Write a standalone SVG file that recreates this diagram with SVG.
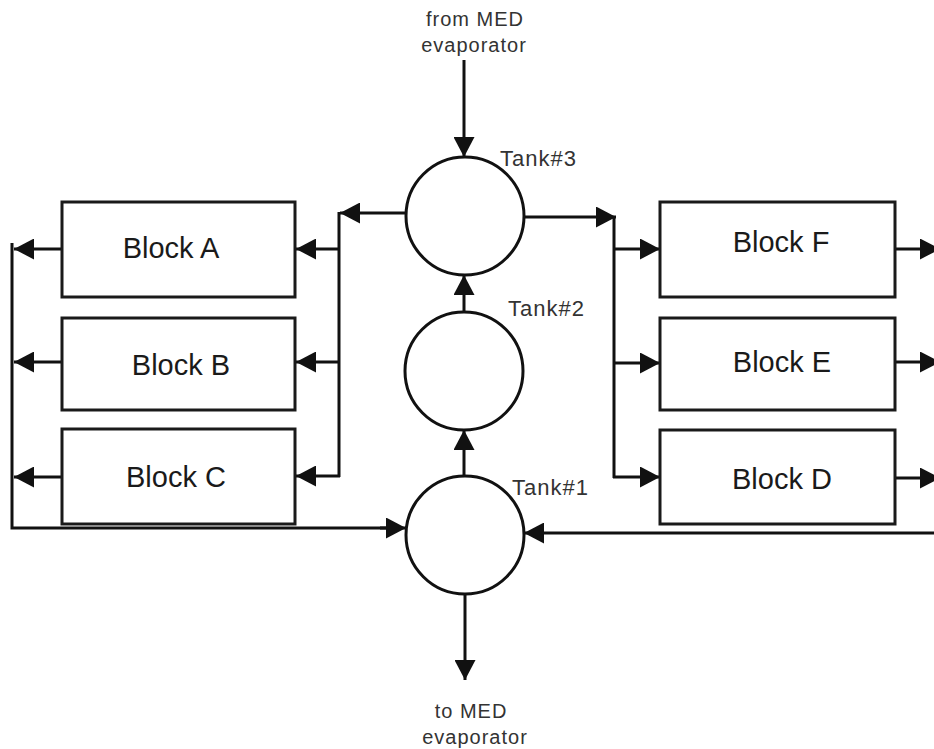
<svg xmlns="http://www.w3.org/2000/svg" width="934" height="749" viewBox="0 0 934 749">
<style>
.box{fill:#fff;stroke:#1a1a1a;stroke-width:3}
.tank{fill:#fff;stroke:#111;stroke-width:3}
.ln{fill:none;stroke:#111;stroke-width:3}
.bl{font-family:"Liberation Sans",Arial,sans-serif;font-size:29px;fill:#1a1a1a;text-anchor:middle}
.tl{font-family:"Liberation Sans",Arial,sans-serif;font-size:22px;fill:#333;letter-spacing:1px}
.el{font-family:"Liberation Sans",Arial,sans-serif;font-size:20px;fill:#333;text-anchor:middle;letter-spacing:1px}
</style>
<defs>
<marker id="ah" viewBox="0 0 20 21" refX="20" refY="10.5" markerWidth="20" markerHeight="21" markerUnits="userSpaceOnUse" orient="auto">
<path d="M0,0 L20,10.5 L0,21 z" fill="#111"/>
</marker>
</defs>
<rect width="934" height="749" fill="#fff"/>
<g id="connectors">
<line class="ln" x1="464" y1="60" x2="464" y2="157" marker-end="url(#ah)"/>
<line class="ln" x1="406" y1="213" x2="340" y2="213" marker-end="url(#ah)"/>
<line class="ln" x1="339" y1="212" x2="339" y2="477"/>
<line class="ln" x1="339" y1="249" x2="296" y2="249" marker-end="url(#ah)"/>
<line class="ln" x1="339" y1="362" x2="296" y2="362" marker-end="url(#ah)"/>
<line class="ln" x1="340" y1="476" x2="296" y2="476" marker-end="url(#ah)"/>
<line class="ln" x1="62" y1="249" x2="14" y2="249" marker-end="url(#ah)"/>
<line class="ln" x1="62" y1="362" x2="14" y2="362" marker-end="url(#ah)"/>
<line class="ln" x1="62" y1="477" x2="14" y2="477" marker-end="url(#ah)"/>
<polyline class="ln" points="12,243 12,528 390,528"/>
<line class="ln" x1="380" y1="528" x2="406" y2="528" marker-end="url(#ah)"/>
<line class="ln" x1="936" y1="533" x2="524" y2="533" marker-end="url(#ah)"/>
<line class="ln" x1="465" y1="594" x2="465" y2="680" marker-end="url(#ah)"/>
<line class="ln" x1="464" y1="476" x2="464" y2="430" marker-end="url(#ah)"/>
<line class="ln" x1="464" y1="312" x2="464" y2="275" marker-end="url(#ah)"/>
<line class="ln" x1="524" y1="217" x2="616" y2="217" marker-end="url(#ah)"/>
<line class="ln" x1="614" y1="216" x2="614" y2="478"/>
<line class="ln" x1="614" y1="249" x2="660" y2="249" marker-end="url(#ah)"/>
<line class="ln" x1="614" y1="363" x2="660" y2="363" marker-end="url(#ah)"/>
<line class="ln" x1="613" y1="477" x2="660" y2="477" marker-end="url(#ah)"/>
<line class="ln" x1="895" y1="249" x2="940" y2="249" marker-end="url(#ah)"/>
<line class="ln" x1="895" y1="362" x2="940" y2="362" marker-end="url(#ah)"/>
<line class="ln" x1="895" y1="478" x2="940" y2="478" marker-end="url(#ah)"/>
</g>
<g id="blockA"><rect class="box" x="62" y="202" width="233" height="95"/><text class="bl" x="171" y="258">Block A</text></g>
<g id="blockB"><rect class="box" x="62" y="318" width="233" height="92"/><text class="bl" x="181" y="375">Block B</text></g>
<g id="blockC"><rect class="box" x="62" y="429" width="233" height="95"/><text class="bl" x="176" y="487">Block C</text></g>
<g id="blockF"><rect class="box" x="660" y="202" width="235" height="95"/><text class="bl" x="781" y="252">Block F</text></g>
<g id="blockE"><rect class="box" x="660" y="318" width="235" height="92"/><text class="bl" x="782" y="372">Block E</text></g>
<g id="blockD"><rect class="box" x="660" y="430" width="235" height="94"/><text class="bl" x="782" y="489">Block D</text></g>
<g id="tank3"><circle class="tank" cx="465" cy="216" r="59"/><text class="tl" x="500" y="166">Tank#3</text></g>
<g id="tank2"><circle class="tank" cx="464" cy="371" r="59"/><text class="tl" x="508" y="316">Tank#2</text></g>
<g id="tank1"><circle class="tank" cx="465" cy="535" r="59"/><text class="tl" x="512" y="495">Tank#1</text></g>
<g id="fromMED"><text class="el" x="475" y="26">from MED</text><text class="el" x="474" y="52">evaporator</text></g>
<g id="toMED"><text class="el" x="471" y="718">to MED</text><text class="el" x="475" y="744">evaporator</text></g>
</svg>
